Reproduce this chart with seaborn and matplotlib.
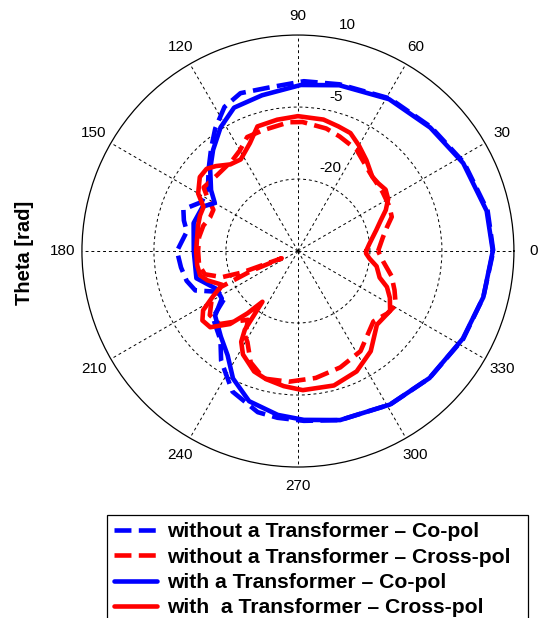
import numpy as np
import pandas as pd
import seaborn as sns
import matplotlib.pyplot as plt
import matplotlib.transforms as mtransforms

# radiation pattern, angle in degrees, level in dB
ang_copol_wo = [0, 12, 28, 43, 59, 76, 88, 100, 110, 117, 124, 130, 137, 145, 153, 160, 165,
                170, 180, 188, 195, 201, 207, 213, 218, 229, 235, 245, 256, 263, 272, 284,
                301, 316, 332, 346, 360]
db_copol_wo = [5.7, 5.4, 4.2, 2.9, 2.1, 0.8, 0.4, -0.4, 0.0, -1.3, -4.2, -6.9, -9.6, -12.1,
               -12.5, -9.6, -10.4, -11.5, -9.8, -10.4, -11.0, -12.1, -16.3, -16.7, -12.5,
               -10.4, -7.1, -2.7, -0.4, 0.0, 0.4, 1.3, 2.3, 3.1, 4.0, 4.8, 5.7]

ang_cross_wo = [0, 9, 15, 20, 26, 35, 47, 60, 70, 77, 88, 94, 106, 114, 120, 126, 137, 146,
                149, 154, 159, 165, 172, 180, 188, 194, 199, 201, 204, 203, 205, 210, 216,
                223, 229, 234, 238, 241, 247, 255, 266, 278, 290, 302, 317, 325, 331, 338,
                345, 353, 360]
db_cross_wo = [-18.3, -17.1, -15.8, -14.2, -13.8, -13.5, -12.9, -10.6, -9.6, -8.8, -8.1,
               -8.1, -8.8, -9.0, -10.8, -11.7, -11.9, -11.3, -12.9, -15.4, -15.4, -14.6,
               -14.2, -14.2, -14.2, -15.0, -18.3, -22.5, -31.3, -24.6, -17.3, -14.2, -12.3,
               -12.7, -15.6, -17.3, -14.2, -13.3, -9.8, -7.5, -7.7, -8.3, -9.2, -10.4,
               -13.5, -12.3, -11.7, -13.3, -14.8, -17.1, -18.3]

ang_copol_w = [0, 12, 28, 43, 59, 76, 89, 103, 114, 122, 130, 137, 145, 150, 155, 165, 180,
               195, 205, 212, 218, 228, 236, 243, 252, 263, 272, 284, 301, 316, 332, 346, 360]
db_copol_w = [5.6, 5.2, 4.0, 2.7, 1.9, 0.6, -0.4, -1.7, -2.3, -4.6, -7.5, -10.0, -12.9,
              -15.0, -13.1, -12.5, -13.3, -13.1, -16.3, -16.3, -13.1, -11.0, -8.8, -5.2,
              -2.1, -0.6, 0.2, 1.3, 2.3, 3.1, 3.9, 4.8, 5.6]

ang_cross_w = [0, 6, 15, 20, 25, 30, 35, 40, 45, 53, 60, 66, 72, 79, 90, 99, 108, 114, 122,
               128, 134, 138, 143, 150, 155, 160, 165, 172, 180, 188, 194, 198, 204, 208,
               212, 216, 221, 227, 231, 235, 236, 238, 242, 250, 256, 264, 272, 285, 296,
               306, 317, 327, 333, 338, 342, 349, 354, 358, 360]
db_cross_w = [-20.8, -20.0, -18.1, -16.7, -14.8, -13.3, -12.7, -13.1, -13.1, -11.3, -9.6,
              -8.1, -7.7, -7.1, -6.9, -7.3, -7.7, -10.4, -12.5, -12.1, -10.4, -9.4, -9.4,
              -11.0, -13.3, -13.3, -13.5, -13.8, -13.8, -13.8, -14.0, -15.2, -17.7, -15.0,
              -11.7, -10.4, -10.8, -14.2, -18.3, -22.1, -15.2, -12.7, -10.6, -8.3, -7.5,
              -6.7, -6.0, -6.0, -7.1, -9.2, -12.5, -12.1, -13.5, -15.0, -17.1, -18.3,
              -20.0, -20.8, -20.8]

series = [
    ('without a Transformer \u2013 Co-pol', ang_copol_wo, db_copol_wo, 'blue', '--'),
    ('without a Transformer \u2013 Cross-pol', ang_cross_wo, db_cross_wo, 'red', '--'),
    ('with a Transformer \u2013 Co-pol', ang_copol_w, db_copol_w, 'blue', '-'),
    ('with  a Transformer \u2013 Cross-pol', ang_cross_w, db_cross_w, 'red', '-'),
]

r_ticks = [-20, -5, 10]
theta_ticks = list(range(0, 360, 30))

sns.set_style('white')
plt.rcParams['font.family'] = ['Liberation Sans', 'DejaVu Sans']
plt.rcParams.update({'text.color': 'black', 'axes.labelcolor': 'black',
                     'xtick.color': 'black', 'ytick.color': 'black'})

fig = plt.figure(figsize=(5.39, 6.18), dpi=100)
ax = fig.add_axes([0.152, 0.2443, 0.8015, 0.699], projection='polar')

for label, ang, db, col, ls in series:
    df = pd.DataFrame({'theta': np.deg2rad(ang), 'db': db})
    sns.lineplot(data=df, x='theta', y='db', sort=False, estimator=None, ax=ax,
                 color=col, linestyle=ls, linewidth=3.3, label=label, legend=False)

ax.set_rlim(-35, 10)
ax.set_rgrids(r_ticks[:-1], labels=['', ''])
ax.set_thetagrids(theta_ticks, labels=[str(t) for t in theta_ticks])
ax.grid(True, color='black', linestyle=(0, (3, 3)), linewidth=0.7)
ax.spines['polar'].set_color('black')
ax.spines['polar'].set_linewidth(0.9)
ax.tick_params(axis='x', pad=3.5, labelsize=11, labelcolor='black')
ax.set_xlabel('')
ax.set_ylabel('')

# radial level labels along 82 degrees
off = mtransforms.offset_copy(ax.transData, fig=fig, x=8, y=3.5, units='points')
for r in r_ticks:
    ax.text(np.deg2rad(82), r, str(r), transform=off, ha='left', va='bottom', fontsize=11)

fig.text(25 / 539, 1 - 253 / 618, 'Theta [rad]', rotation=90, ha='center', va='center',
         fontsize=14.5, fontweight='bold')

handles, labels = ax.get_legend_handles_labels()
leg_top = 1 - 515 / 618
leg = fig.legend(handles, labels, loc='upper left',
                 bbox_to_anchor=(107 / 539, 0, (528 - 107) / 539, leg_top), mode='expand',
                 borderaxespad=0, fancybox=False, edgecolor='black', framealpha=1,
                 prop={'weight': 'bold', 'size': 15.2}, handlelength=2.0, handletextpad=0.5,
                 labelspacing=0.3, borderpad=0.35)
leg.get_frame().set_linewidth(0.9)

fig.savefig('out.png', dpi=100)
